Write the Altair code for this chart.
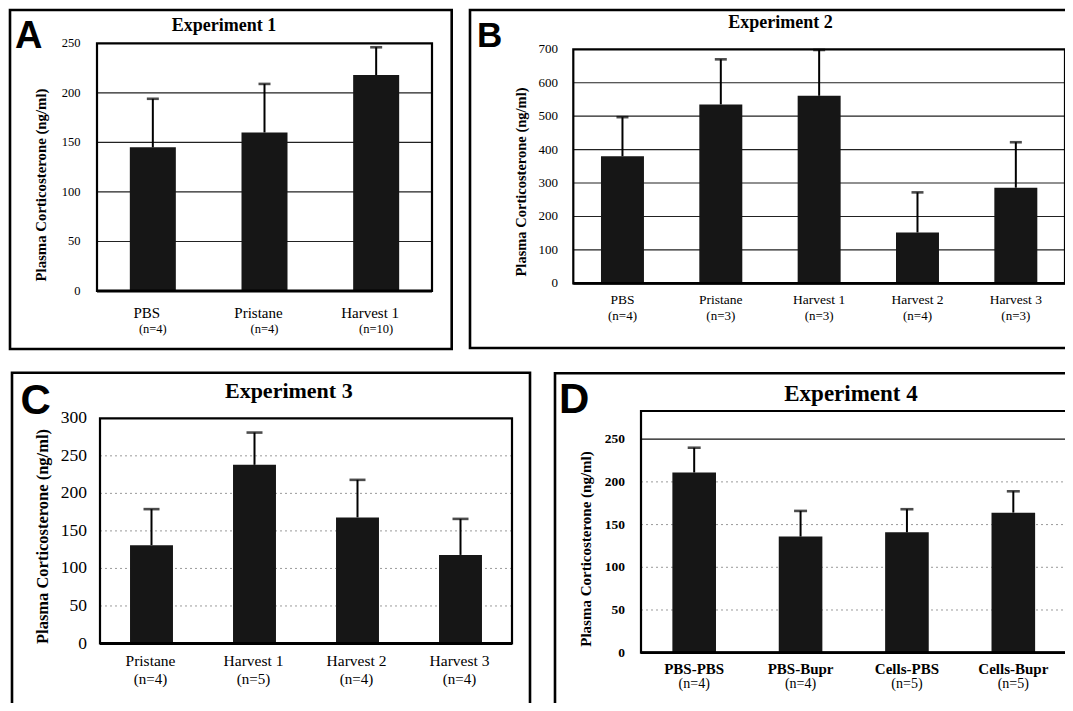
import altair as alt
import pandas as pd

SERIF = "Liberation Serif"
SANS = "Liberation Sans"
YTITLE = "Plasma Corticosterone (ng/ml)"

# ---------------- data ----------------
a_cats = ["PBS", "Pristane", "Harvest 1"]
a_n = ["(n=4)", "(n=4)", "(n=10)"]
a_mean = [145, 160, 218]
a_upper = [194, 209, 246]
a_ticks = [0, 50, 100, 150, 200, 250]

b_cats = ["PBS", "Pristane", "Harvest 1", "Harvest 2", "Harvest 3"]
b_n = ["(n=4)", "(n=3)", "(n=3)", "(n=4)", "(n=3)"]
b_mean = [380, 535, 561, 152, 286]
b_upper = [497, 670, 698, 272, 422]
b_ticks = [0, 100, 200, 300, 400, 500, 600, 700]

c_cats = ["Pristane", "Harvest 1", "Harvest 2", "Harvest 3"]
c_n = ["(n=4)", "(n=5)", "(n=4)", "(n=4)"]
c_mean = [131, 238, 168, 118]
c_upper = [179, 281, 218, 166]
c_ticks = [0, 50, 100, 150, 200, 250, 300]

d_cats = ["PBS-PBS", "PBS-Bupr", "Cells-PBS", "Cells-Bupr"]
d_n = ["(n=4)", "(n=4)", "(n=5)", "(n=5)"]
d_mean = [211, 136, 141, 164]
d_upper = [240, 166, 168, 189]
d_ticks = [0, 50, 100, 150, 200, 250]

# ---------------- layout / style per panel ----------------
panels_cfg = [
    dict(letter="A", title="Experiment 1", cats=a_cats, n=a_n, mean=a_mean, upper=a_upper,
         ticks=a_ticks, ymax=250, grid=[50, 100, 150, 200], solid=[], gridstyle="solid",
         xr=[89, 424], pad=0.588, yr=[283, 35.3],
         tick_x=72.5, tick_fs=12.5, tick_w="normal",
         yt=(33.7, 177), yt_fs=14.8,
         tt=(216, 22.7), tt_fs=18,
         lt=(7, 40.3), lt_fs=38,
         name_y=310.3, name_fs=15, name_dx=-6, name_w="normal",
         n_y=324.5, n_fs=12.5, n_dx=0,
         outer=[2, 443.7, 2, 341], cap=12),
    dict(letter="B", title="Experiment 2", cats=b_cats, n=b_n, mean=b_mean, upper=b_upper,
         ticks=b_ticks, ymax=700, grid=[100, 200, 300, 400, 500, 600], solid=[], gridstyle="solid",
         xr=[565.3, 1057], pad=0.563, yr=[275.3, 41.3],
         tick_x=550, tick_fs=13, tick_w="normal",
         yt=(513.7, 174), yt_fs=14.5,
         tt=(772.5, 20.3), tt_fs=18,
         lt=(469, 39), lt_fs=35,
         name_y=296, name_fs=13.5, name_dx=0, name_w="normal",
         n_y=311.5, n_fs=13, n_dx=0,
         outer=[462, 1070, 2, 340], cap=12),
    dict(letter="C", title="Experiment 3", cats=c_cats, n=c_n, mean=c_mean, upper=c_upper,
         ticks=c_ticks, ymax=300, grid=[50, 100, 150, 200, 250], solid=[], gridstyle="dotted",
         xr=[92, 504], pad=0.583, yr=[635.5, 410.3],
         tick_x=79, tick_fs=17.5, tick_w="normal",
         yt=(35, 528.5), yt_fs=16.5,
         tt=(280.8, 390.3), tt_fs=22,
         lt=(12.5, 406), lt_fs=42,
         name_y=658.2, name_fs=15.5, name_dx=-1, name_w="normal",
         n_y=676, n_fs=15, n_dx=-1,
         outer=[4, 522, 364.7, 720], cap=16),
    dict(letter="D", title="Experiment 4", cats=d_cats, n=d_n, mean=d_mean, upper=d_upper,
         ticks=d_ticks, ymax=283, grid=[50, 100, 150, 200], solid=[250], gridstyle="dotted",
         xr=[633, 1058.5], pad=0.59, yr=[644.7, 403],
         tick_x=617, tick_fs=13.5, tick_w="bold",
         yt=(578, 541), yt_fs=15,
         tt=(843, 392.7), tt_fs=23,
         lt=(551, 405), lt_fs=42,
         name_y=666, name_fs=15, name_dx=0, name_w="bold",
         n_y=680, n_fs=14, n_dx=0,
         outer=[547, 1070, 365.3, 720], cap=13),
]

one = pd.DataFrame({"k": [0]})


def make_panel(c):
    df = pd.DataFrame({"cat": c["cats"], "n": c["n"], "mean": c["mean"], "upper": c["upper"]})
    xs = alt.Scale(domain=c["cats"], range=c["xr"], paddingInner=c["pad"], paddingOuter=c["pad"] / 2)
    ys = alt.Scale(domain=[0, c["ymax"]], range=c["yr"], nice=False, zero=False)
    X = alt.X("cat:N", scale=xs, axis=None, sort=c["cats"])

    layers = []
    # gridlines
    gdf = pd.DataFrame({"v": c["grid"]})
    if c["gridstyle"] == "solid":
        g = alt.Chart(gdf).mark_rule(color="#222222", strokeWidth=1.1)
    else:
        g = alt.Chart(gdf).mark_rule(color="#9a9a9a", strokeWidth=1, strokeDash=[2, 3])
    layers.append(g.encode(y=alt.Y("v:Q", scale=ys, axis=None),
                           x=alt.value(c["xr"][0]), x2=alt.value(c["xr"][1])))
    if c["solid"]:
        sdf = pd.DataFrame({"v": c["solid"]})
        layers.append(alt.Chart(sdf).mark_rule(color="#111111", strokeWidth=1.3).encode(
            y=alt.Y("v:Q", scale=ys, axis=None),
            x=alt.value(c["xr"][0]), x2=alt.value(c["xr"][1])))

    base = alt.Chart(df)
    layers.append(base.mark_bar(color="#161616").encode(
        x=X, y=alt.Y("mean:Q", scale=ys, axis=None)))
    layers.append(base.mark_rule(color="black", strokeWidth=2).encode(
        x=X, y=alt.Y("mean:Q", scale=ys, axis=None), y2="upper:Q"))
    layers.append(base.mark_tick(color="black", orient="horizontal", size=c["cap"], thickness=2.6).encode(
        x=X, y=alt.Y("upper:Q", scale=ys, axis=None)))

    # category labels
    layers.append(base.mark_text(font=SERIF, fontSize=c["name_fs"], fontWeight=c["name_w"],
                                 baseline="alphabetic", dx=c["name_dx"], color="black").encode(
        x=X, y=alt.value(c["name_y"]), text="cat:N"))
    layers.append(base.mark_text(font=SERIF, fontSize=c["n_fs"], baseline="alphabetic",
                                 dx=c["n_dx"], color="black").encode(
        x=X, y=alt.value(c["n_y"]), text="n:N"))

    # y tick labels
    tdf = pd.DataFrame({"v": c["ticks"]})
    layers.append(alt.Chart(tdf).mark_text(font=SERIF, fontSize=c["tick_fs"], fontWeight=c["tick_w"],
                                           align="right", baseline="middle", color="black").encode(
        y=alt.Y("v:Q", scale=ys, axis=None), x=alt.value(c["tick_x"]), text=alt.Text("v:Q", format="d")))

    # plot frame
    layers.append(alt.Chart(one).mark_rect(filled=False, color="black", strokeWidth=2.2).encode(
        x=alt.value(c["xr"][0]), x2=alt.value(c["xr"][1]),
        y=alt.value(c["yr"][1]), y2=alt.value(c["yr"][0])))
    layers.append(alt.Chart(one).mark_rule(color="black", strokeWidth=2.8).encode(
        x=alt.value(c["xr"][0]), x2=alt.value(c["xr"][1]), y=alt.value(c["yr"][0])))

    # outer box
    o = c["outer"]
    layers.append(alt.Chart(one).mark_rect(filled=False, color="black", strokeWidth=2.6).encode(
        x=alt.value(o[0]), x2=alt.value(o[1]), y=alt.value(o[2]), y2=alt.value(o[3])))

    # y title
    layers.append(alt.Chart(one).mark_text(font=SERIF, fontWeight="bold", fontSize=c["yt_fs"], angle=270,
                                           align="center", baseline="middle", color="black").encode(
        x=alt.value(c["yt"][0]), y=alt.value(c["yt"][1]), text=alt.value(YTITLE)))
    # panel title
    layers.append(alt.Chart(one).mark_text(font=SERIF, fontWeight="bold", fontSize=c["tt_fs"],
                                           align="center", baseline="alphabetic", color="black").encode(
        x=alt.value(c["tt"][0]), y=alt.value(c["tt"][1]), text=alt.value(c["title"])))
    # panel letter
    layers.append(alt.Chart(one).mark_text(font=SANS, fontWeight="bold", fontSize=c["lt_fs"],
                                           align="left", baseline="alphabetic", color="black").encode(
        x=alt.value(c["lt"][0]), y=alt.value(c["lt"][1]), text=alt.value(c["letter"])))
    return alt.layer(*layers)


chart = alt.layer(*[make_panel(c) for c in panels_cfg]).resolve_scale(
    x="independent", y="independent"
).properties(
    width=1057, height=695, padding=0,
    autosize=alt.AutoSizeParams(type="none"),
    background="white",
).configure_view(stroke=None)

chart.save("out.html", embed_options={"renderer": "svg", "actions": False})
